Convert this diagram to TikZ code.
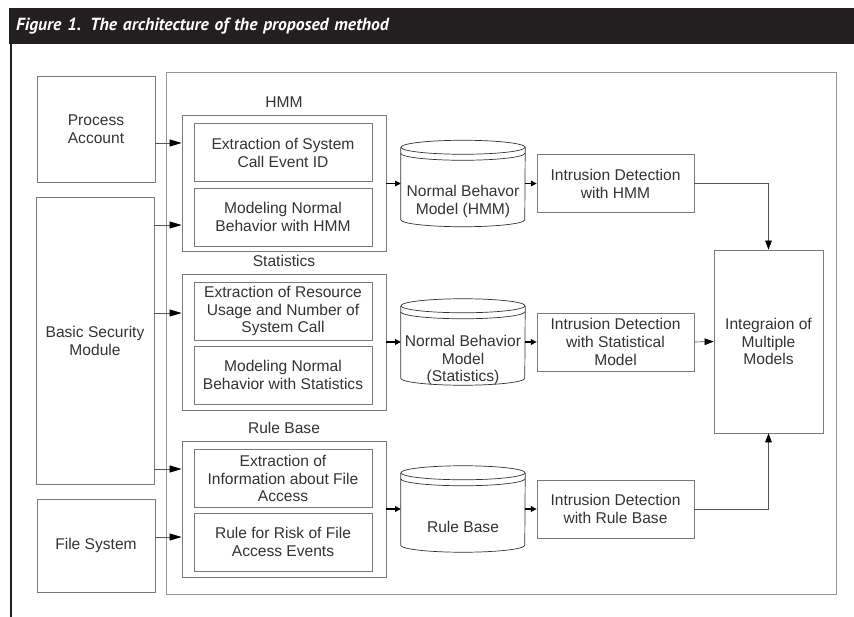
\documentclass[tikz,border=0pt]{standalone}
\usepackage{fontspec}
\setmainfont{Liberation Sans}
\newfontfamily\captionfont{PT Sans}
\usetikzlibrary{arrows.meta,calc,positioning}
\definecolor{boxgray}{HTML}{7A7A7A}
\definecolor{inkgray}{HTML}{333333}
\definecolor{barblack}{HTML}{231F20}
\def\pxl{0.03cm}
\tikzset{
    arch diagram/.style = {x=\pxl, y=\pxl},
    txt/.style          = {font=\fontsize{13.3}{15.3}\selectfont,
                           text=inkgray, align=center},
    block/.style        = {txt, draw=boxgray, line width=0.7pt, inner sep=0pt},
    source/.style       = {block, minimum width=118*\pxl},
    stepbox/.style      = {block, minimum width=178*\pxl, minimum height=58*\pxl},
    group/.style        = {draw=boxgray, line width=0.7pt,
                           minimum width=204*\pxl, minimum height=136*\pxl},
    grouplabel/.style   = {txt, inner sep=0pt, label distance=7*\pxl},
    detect/.style       = {block, minimum width=157*\pxl, minimum height=58*\pxl},
    db/.style           = {minimum width=124*\pxl, minimum height=86*\pxl,
                           inner sep=0pt},
    dbtext/.style       = {txt, inner sep=0pt, yshift=-18*\pxl},
    dbline/.style       = {draw=inkgray, line width=0.6pt},
    feed/.style         = {draw=boxgray!70!black, line width=0.6pt,
                           -{Triangle[length=0.36cm, width=0.21cm, black]}},
    merge/.style        = {draw=boxgray!70!black, line width=0.6pt,
                           -{Triangle[length=0.27cm, width=0.2cm, black]}},
    pass/.style         = {draw=black, line width=0.9pt,
                           -{Triangle[length=0.17cm, width=0.17cm]}},
    enclosure/.style    = {draw=boxgray!80, line width=0.7pt},
    titlebar/.style     = {anchor=north west, fill=barblack, text=white,
                           minimum height=36*\pxl, text width=831*\pxl,
                           inner xsep=7*\pxl, align=left,
                           font=\captionfont\bfseries\itshape\fontsize{15}{17}\selectfont}
}
\def\hmmrow{-183.5}
\def\statrow{-342}
\def\rulerow{-509}

\begin{document}
\begin{tikzpicture}[arch diagram]
\useasboundingbox (0,0) rectangle (854,-617);

% Caption bar and margin rule.
\node[titlebar] (title) at (9,-8) {Figure 1. The architecture of the proposed method};
\draw[barblack, line width=2*\pxl] ([xshift=2*\pxl]title.south west)
    -- ([xshift=2*\pxl]title.south west |- 0,-617);

% Outer frame of the method.
\node[enclosure, minimum width=670*\pxl, minimum height=522*\pxl] (frame) at (501,-333) {};

% Data sources.
\node[source, minimum height=106*\pxl] (pa) at (96,-129) {Process\\Account};
\node[source, minimum height=287*\pxl] (bsm) at (95,-340.5) {Basic Security\\Module};
\node[source, minimum height=93*\pxl] (fs) at (96,-545.5) {File System};

% Three modelling groups.
\node[group, label={[grouplabel]above:HMM}] (hmmgrp) at (284,\hmmrow) {};
\node[stepbox] (hmm1) at (283,-152.5) {Extraction of System\\Call Event ID};
\node[stepbox] (hmm2) at (283,-217) {Modeling Normal\\Behavior with HMM};

\node[group, label={[grouplabel]above:Statistics}] (statgrp) at (284,\statrow) {};
\node[stepbox] (stat1) at (283,-311) {Extraction of Resource\\Usage and Number of\\System Call};
\node[stepbox] (stat2) at (283,-375) {Modeling Normal\\Behavior with Statistics};

\node[group, label={[grouplabel]above:Rule Base}] (rulegrp) at (284,\rulerow) {};
\node[stepbox] (rule1) at (283,-478.5) {Extraction of\\Information about File\\Access};
\node[stepbox] (rule2) at (283,-542) {Rule for Risk of File\\Access Events};

% Model stores.
\node[db, label={[dbtext]center:{Normal Behavor\\Model (HMM)}}] (dbhmm) at (463,\hmmrow) {};
\node[db, label={[dbtext]center:{Normal Behavior\\Model\\(Statistics)}}] (dbstat) at (463,\statrow) {};
\node[db, label={[dbtext]center:Rule Base}] (dbrule) at (463,\rulerow) {};
\foreach \db in {dbhmm,dbstat,dbrule} {
    \draw[dbline] ([yshift=-7*\pxl]\db.north west)
        -- ([yshift=7*\pxl]\db.south west)
        arc[start angle=180, end angle=360, x radius=1.86cm, y radius=0.21cm]
        -- ([yshift=-7*\pxl]\db.north east);
    \draw[dbline] ([yshift=-7*\pxl]\db.north) ellipse[x radius=1.86cm, y radius=0.21cm];
    \draw[dbline] ([yshift=-13*\pxl]\db.north west)
        arc[start angle=180, end angle=360, x radius=1.86cm, y radius=0.21cm];
}

% Detectors and their integration.
\node[detect] (idhmm) at (615.5,\hmmrow) {Intrusion Detection\\with HMM};
\node[detect] (idstat) at (615.5,\statrow) {Intrusion Detection\\with Statistical\\Model};
\node[detect] (idrule) at (615.5,\rulerow) {Intrusion Detection\\with Rule Base};
\node[block, minimum width=109*\pxl, minimum height=183*\pxl] (integ) at (768.5,-341.5)
    {Integraion of\\Multiple\\Models};

% Sources feed the groups.
\coordinate (pain) at ([yshift=-14*\pxl]pa.east);
\draw[feed] (pain) -- (pain -| hmmgrp.west);
\draw[feed] (bsm.east |- 0,-225) -- (hmmgrp.west |- 0,-225);
\draw[feed] (bsm.east |- 0,-313) -- (statgrp.west |- 0,-313);
\draw[feed] (bsm.east |- 0,-469) -- (rulegrp.west |- 0,-469);
\draw[feed] (fs.east |- 0,-537) -- (rulegrp.west |- 0,-537);

% Groups to stores to detectors.
\foreach \grp/\db/\id in {hmmgrp/dbhmm/idhmm, statgrp/dbstat/idstat, rulegrp/dbrule/idrule} {
    \draw[pass] (\grp.east) -- (\db.west);
    \draw[pass] (\db.east) -- (\id.west);
}

% Detectors merge into the integration step.
\draw[merge] (idhmm.east) -| (integ.north);
\draw[merge] (idstat.east) -- (integ.west);
\draw[merge] (idrule.east) -| (integ.south);

\end{tikzpicture}
\end{document}
